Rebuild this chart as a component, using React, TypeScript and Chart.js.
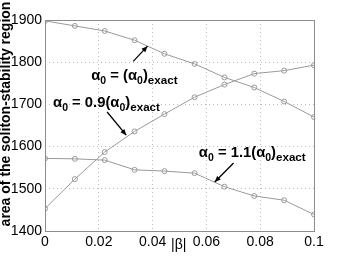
import React, { useEffect, useRef } from "react";
import { Chart, registerables } from "chart.js";

Chart.register(...registerables);

const betaValues = [0, 0.0111, 0.0222, 0.0333, 0.0444, 0.0556, 0.0667, 0.0778, 0.0889, 0.1];
const seriesExact = [1898, 1886, 1874, 1852, 1820, 1796, 1764, 1740, 1707, 1670];
const series09 = [1453, 1523, 1587, 1636, 1677, 1717, 1747, 1773, 1780, 1793];
const series11 = [1572, 1571, 1568, 1545, 1542, 1537, 1505, 1483, 1473, 1439];
const xTicks = [0, 0.02, 0.04, 0.06, 0.08, 0.1];
const yTicks = [1400, 1500, 1600, 1700, 1800, 1900];
const yTitle = "area of the soliton-stability region";
const xTitle = "|β|";

const FONT = "'Liberation Sans', Arial, Helvetica, sans-serif";

type Part = { t: string; size: number; dy: number };
const labelParts = (mid: string): Part[] => [
  { t: "α", size: 14.8, dy: 0 },
  { t: "0", size: 10.5, dy: 4 },
  { t: mid + "(α", size: 14.8, dy: 0 },
  { t: "0", size: 10.5, dy: 4 },
  { t: ")", size: 14.8, dy: 0 },
  { t: "exact", size: 11.6, dy: 4 },
];

function drawArrow(ctx: CanvasRenderingContext2D, x1: number, y1: number, x2: number, y2: number) {
  ctx.save();
  ctx.strokeStyle = "#000";
  ctx.fillStyle = "#000";
  ctx.lineWidth = 1.3;
  ctx.beginPath();
  ctx.moveTo(x1, y1);
  ctx.lineTo(x2, y2);
  ctx.stroke();
  const ang = Math.atan2(y2 - y1, x2 - x1);
  const L = 6, W = 2.6;
  ctx.beginPath();
  ctx.moveTo(x2, y2);
  ctx.lineTo(x2 - L * Math.cos(ang) + W * Math.sin(ang), y2 - L * Math.sin(ang) - W * Math.cos(ang));
  ctx.lineTo(x2 - L * Math.cos(ang) - W * Math.sin(ang), y2 - L * Math.sin(ang) + W * Math.cos(ang));
  ctx.closePath();
  ctx.fill();
  ctx.restore();
}

function drawRich(ctx: CanvasRenderingContext2D, x: number, y: number, parts: Part[]) {
  ctx.save();
  ctx.fillStyle = "#000";
  ctx.textBaseline = "alphabetic";
  ctx.textAlign = "left";
  let cx = x;
  for (const p of parts) {
    ctx.font = `bold ${p.size}px ${FONT}`;
    ctx.fillText(p.t, cx, y + p.dy);
    cx += ctx.measureText(p.t).width;
  }
  ctx.restore();
}

const overlay = {
  id: "overlay",
  afterDraw(chart: any) {
    const { ctx, chartArea: a, scales } = chart;
    const xs = scales.x, ys = scales.y;
    ctx.save();
    ctx.strokeStyle = "#8c8c8c";
    ctx.lineWidth = 1;
    ctx.strokeRect(Math.round(a.left) + 0.5, Math.round(a.top) + 0.5, Math.round(a.right - a.left), Math.round(a.bottom - a.top));
    ctx.restore();

    drawRich(ctx, xs.getPixelForValue(0.0172), ys.getPixelForValue(1759), labelParts(" = "));
    drawRich(ctx, xs.getPixelForValue(0.003), ys.getPixelForValue(1695), labelParts(" = 0.9"));
    drawRich(ctx, xs.getPixelForValue(0.0572), ys.getPixelForValue(1575), labelParts(" = 1.1"));

    drawArrow(ctx, xs.getPixelForValue(0.0328), ys.getPixelForValue(1802), xs.getPixelForValue(0.0381), ys.getPixelForValue(1838));
    drawArrow(ctx, xs.getPixelForValue(0.0231), ys.getPixelForValue(1682), xs.getPixelForValue(0.0302), ys.getPixelForValue(1627));
    drawArrow(ctx, xs.getPixelForValue(0.0701), ys.getPixelForValue(1561), xs.getPixelForValue(0.0631), ys.getPixelForValue(1516));

    ctx.save();
    ctx.fillStyle = "#000";
    ctx.font = `bold 14px ${FONT}`;
    ctx.textAlign = "center";
    ctx.textBaseline = "middle";
    ctx.translate(6.5, 114);
    ctx.rotate(-Math.PI / 2);
    ctx.fillText(yTitle, 0, 0);
    ctx.restore();

    ctx.save();
    ctx.fillStyle = "#000";
    ctx.font = `14px ${FONT}`;
    ctx.textAlign = "center";
    ctx.textBaseline = "middle";
    ctx.fillText(xTitle, xs.getPixelForValue(0.0497), 245);
    ctx.restore();
  },
};

export default function App() {
  const ref = useRef<HTMLCanvasElement | null>(null);
  useEffect(() => {
    document.body.style.margin = "0";
    const canvas = ref.current!;
    const mk = (data: number[]) => ({
      data: betaValues.map((x, i) => ({ x, y: data[i] })),
      borderColor: "#9a9a9a",
      borderWidth: 1,
      pointRadius: 2.5,
      pointBorderWidth: 1,
      pointBorderColor: "#9a9a9a",
      pointBackgroundColor: "rgba(255,255,255,0)",
      tension: 0,
      fill: false,
    });
    const chart = new Chart(canvas, {
      type: "line",
      data: { datasets: [mk(seriesExact), mk(series09), mk(series11)] },
      options: {
        responsive: false,
        animation: false,
        devicePixelRatio: 1,
        layout: { padding: { top: 20, right: 32, left: 0, bottom: 0 } },
        plugins: { legend: { display: false }, tooltip: { enabled: false } },
        scales: {
          x: {
            type: "linear",
            min: 0,
            max: 0.1,
            afterFit: (s: any) => { s.height = 29; },
            afterBuildTicks: (s: any) => { s.ticks = xTicks.map((v) => ({ value: v })); },
            ticks: {
              color: "#000",
              font: { family: FONT, size: 14 },
              padding: 3,
              maxRotation: 0,
              callback: (v: any) => String(Number(Number(v).toFixed(2))),
            },
            grid: { color: "#bdbdbd", drawTicks: false, lineWidth: 1 },
            border: { display: false, dash: [1, 3] },
          },
          y: {
            type: "linear",
            min: 1400,
            max: 1900,
            afterFit: (s: any) => { s.width = 45; },
            afterBuildTicks: (s: any) => { s.ticks = yTicks.map((v) => ({ value: v })); },
            ticks: {
              color: "#000",
              font: { family: FONT, size: 14 },
              padding: 3,
              callback: (v: any) => String(v),
            },
            grid: { color: "#bdbdbd", drawTicks: false, lineWidth: 1 },
            border: { display: false, dash: [1, 3] },
          },
        },
      },
      plugins: [overlay],
    } as any);
    return () => chart.destroy();
  }, []);
  return <canvas ref={ref} width={346} height={260} style={{ display: "block" }} />;
}
